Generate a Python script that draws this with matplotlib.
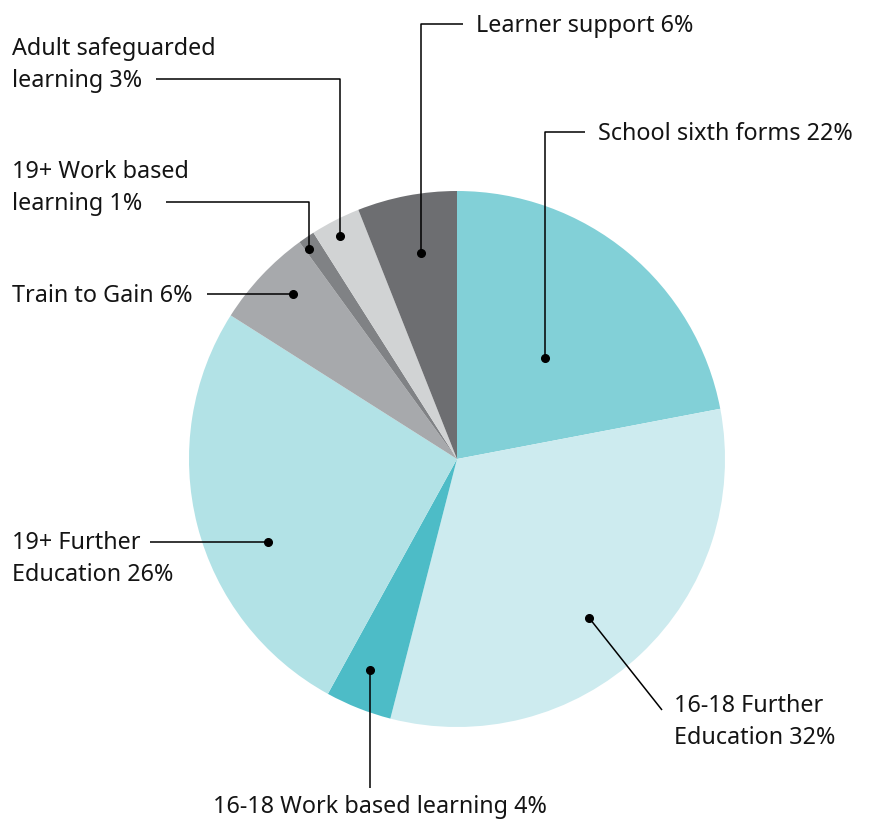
import numpy as np
import matplotlib
matplotlib.use("Agg")
import matplotlib.pyplot as plt

W, H = 874, 822

categories = [
    "School sixth forms", "16-18 Further Education", "16-18 Work based learning",
    "19+ Further Education", "Train to Gain", "19+ Work based learning",
    "Adult safeguarded learning", "Learner support",
]
shares = [22, 32, 4, 26, 6, 1, 3, 6]
label_texts = [
    "School sixth forms 22%", "16-18 Further\nEducation 32%",
    "16-18 Work based learning 4%", "19+ Further\nEducation 26%",
    "Train to Gain 6%", "19+ Work based\nlearning 1%",
    "Adult safeguarded\nlearning 3%", "Learner support 6%",
]
colors = ["#82d0d7", "#cdebef", "#4dbcc7", "#b2e2e6",
          "#a7a9ac", "#808285", "#d1d3d4", "#6d6e71"]

plt.rcParams["font.family"] = ["Noto Sans", "DejaVu Sans"]
TEXT = "#141414"


def Y(y):
    # pixel row (from top) -> data y
    return H - y


fig = plt.figure(figsize=(W / 100, H / 100), dpi=100)
ax = fig.add_axes([0, 0, 1, 1])

cx, cy, R = 457, Y(459), 268
wedges, _ = ax.pie(shares, colors=colors, startangle=90, counterclock=False,
                   center=(cx, cy), radius=R, frame=True,
                   wedgeprops=dict(linewidth=0))

# (fraction along wedge, fraction of radius) for the dot, then leader route
layout = [
    (0.52, 0.50, "up", 132, 585, (598, 134), "left"),
    (0.53, 0.77, "diag", 710, 662, (674, 722), "left"),
    (0.56, 0.85, "down", 788, None, (380, 807), "center"),
    (0.40, 0.77, "left", None, 150, (12, 559), "left"),
    (0.59, 0.87, "left", None, 207, (12, 296), "left"),
    (0.22, 0.96, "upleft", 202, 166, (12, 188), "left"),
    (0.44, 0.94, "upleft", 79, 156, (12, 65), "left"),
    (0.54, 0.78, "up", 24, 463, (476, 26), "left"),
]

for w, text, (fa, fr, kind, ey, ex, (tx, ty), ha) in zip(wedges, label_texts, layout):
    ang = np.deg2rad(w.theta2 - fa * (w.theta2 - w.theta1))
    dx = cx + fr * R * np.cos(ang)
    dy = cy + fr * R * np.sin(ang)
    if kind in ("up", "upleft"):
        xs, ys = [dx, dx, ex], [dy, Y(ey), Y(ey)]
    elif kind == "down":
        xs, ys = [dx, dx], [dy, Y(ey)]
    elif kind == "left":
        xs, ys = [dx, ex], [dy, dy]
    else:
        xs, ys = [dx, ex], [dy, Y(ey)]
    ax.plot(xs, ys, color="black", lw=1.1, solid_capstyle="butt", zorder=4)
    ax.plot(dx, dy, "o", color="black", ms=5.5, zorder=5)
    ax.text(tx, Y(ty), text, ha=ha, va="center", fontsize=16.8,
            color=TEXT, linespacing=1.48)

ax.set_xlim(0, W)
ax.set_ylim(0, H)
ax.set_aspect("equal")
ax.axis("off")

fig.savefig("out.png", dpi=100, facecolor="white")
